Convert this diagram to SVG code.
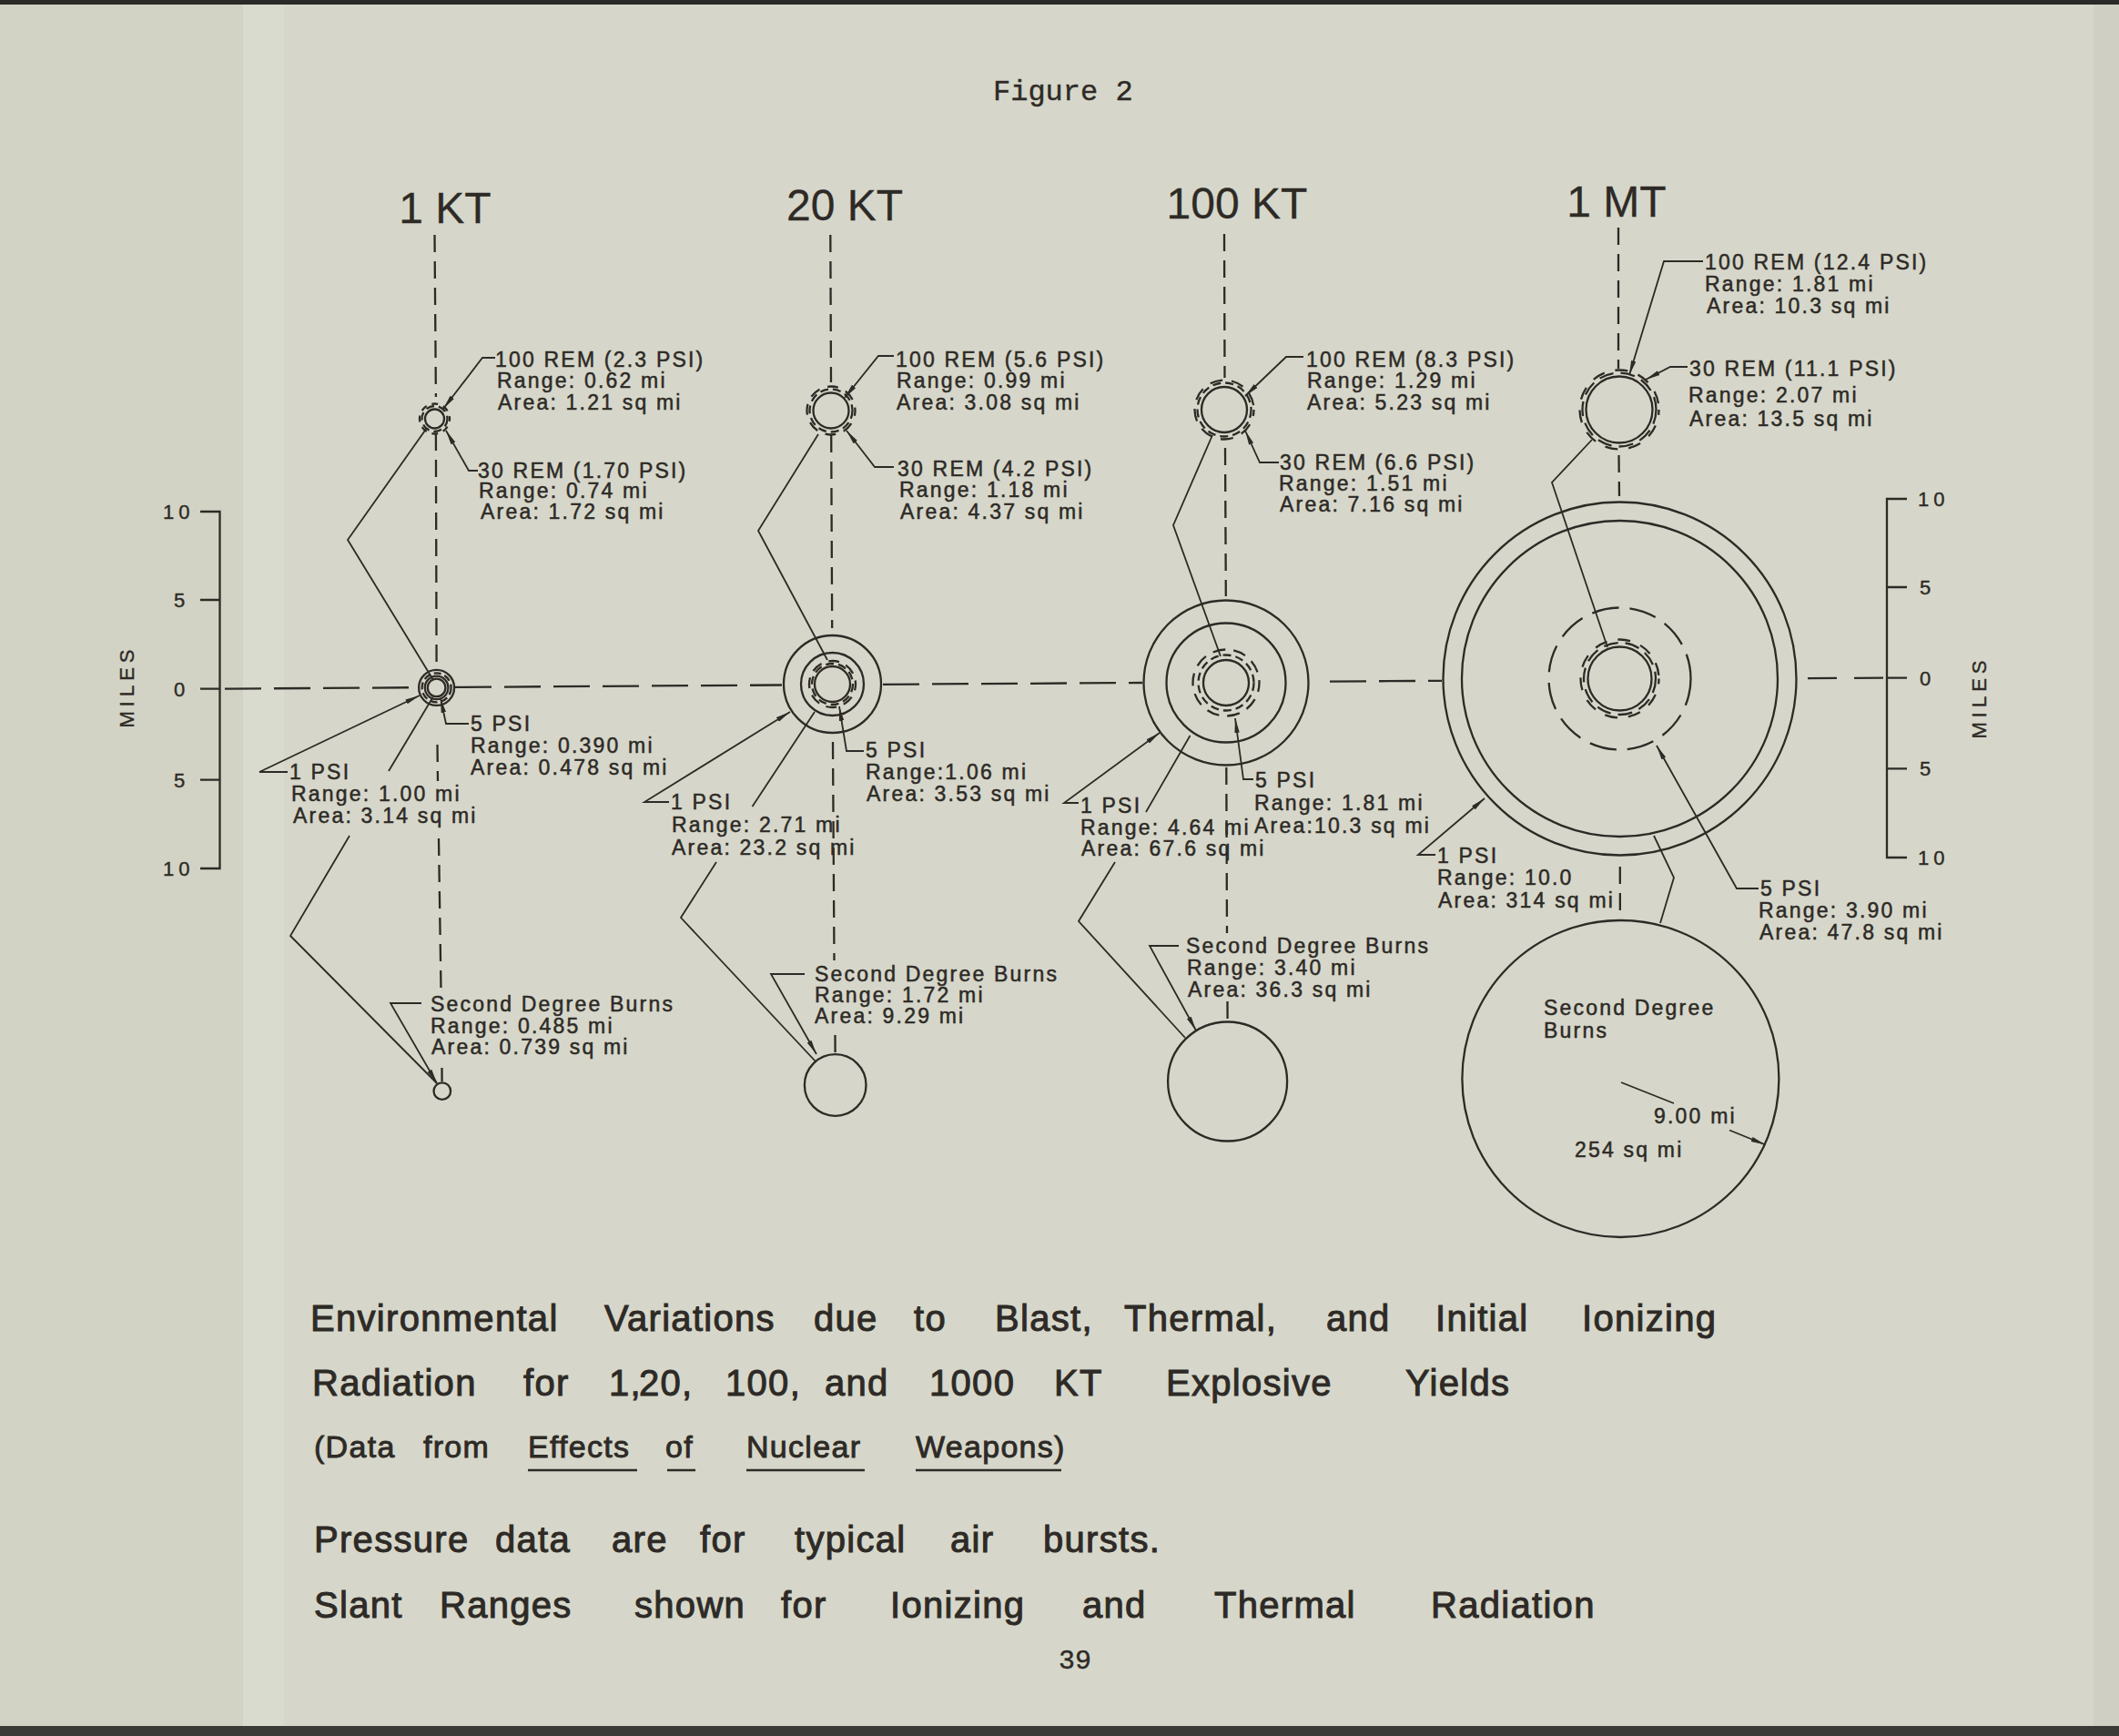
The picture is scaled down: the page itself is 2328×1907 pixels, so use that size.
<svg xmlns="http://www.w3.org/2000/svg" width="2328" height="1907" viewBox="0 0 2328 1907">
<style>
.ln{stroke:#2e2a26;fill:none;stroke-width:2.3}
.th{stroke:#2e2a26;fill:none;stroke-width:1.8}
.dv{stroke-dasharray:19 10}
.dh{stroke-dasharray:40 14}
.ds{stroke-dasharray:9 5}
.lbl{font-family:"Liberation Sans",Arial,sans-serif;font-size:23px;letter-spacing:2.2px;fill:#2e2a26;stroke:#2e2a26;stroke-width:0.5px}
.hdr{font-family:"Liberation Sans",Arial,sans-serif;font-size:48px;fill:#2e2a26;text-anchor:middle;stroke:#2e2a26;stroke-width:0.3px}
.sc{font-family:"Liberation Sans",Arial,sans-serif;font-size:22px;letter-spacing:5px;fill:#2e2a26;stroke:#2e2a26;stroke-width:0.4px}
.cap{font-family:"Liberation Sans",Arial,sans-serif;font-size:40px;letter-spacing:1.3px;fill:#2e2a26;stroke:#2e2a26;stroke-width:1px}
.cap3{font-family:"Liberation Sans",Arial,sans-serif;font-size:34px;letter-spacing:1.3px;fill:#2e2a26;stroke:#2e2a26;stroke-width:0.9px}
.tw{font-family:"Liberation Mono","Courier New",monospace;fill:#2e2a26;stroke:#2e2a26;stroke-width:0.4px}
</style>
<defs>
<marker id="arr" viewBox="0 0 16 8" refX="16" refY="4" markerWidth="16" markerHeight="8" orient="auto" markerUnits="userSpaceOnUse"><path d="M0,1.3 L16,4 L0,6.7 Z" fill="#2e2a26"/></marker>
</defs>
<rect x="0" y="0" width="2328" height="1907" fill="#d6d7ca"/>
<rect x="0" y="0" width="267" height="1907" fill="#d2d3c5"/>
<rect x="267" y="0" width="45" height="1907" fill="#dadbcf"/>
<rect x="2300" y="0" width="28" height="1907" fill="#cfd0c3"/>
<rect x="0" y="0" width="2328" height="5" fill="#2a2a28"/>
<rect x="0" y="1896" width="2328" height="11" fill="#3a3a36"/>

<text class="tw" x="1091" y="110" font-size="32">Figure 2</text>

<g id="headers">
<text class="hdr" x="489" y="245">1 KT</text>
<text class="hdr" x="928" y="242">20 KT</text>
<text class="hdr" x="1359" y="240">100 KT</text>
<text class="hdr" x="1776" y="238">1 MT</text>
</g>

<g id="scale-left">
<path class="ln" d="M220 562 H241.5 V954 H220 M220 659 H241.5 M220 756.7 H241.5 M220 856.6 H241.5"/>
<text class="sc" x="179" y="570">10</text>
<text class="sc" x="191" y="667">5</text>
<text class="sc" x="191" y="765">0</text>
<text class="sc" x="191" y="865">5</text>
<text class="sc" x="179" y="962">10</text>
<text class="sc" transform="translate(147,754) rotate(-90)" text-anchor="middle" font-size="21">MILES</text>
</g>
<g id="scale-right">
<path class="ln" d="M2095 548 H2073 V942 H2095 M2073 645 H2095 M2073 744.7 H2095 M2073 844.3 H2095"/>
<text class="sc" x="2107" y="556">10</text>
<text class="sc" x="2109" y="653">5</text>
<text class="sc" x="2109" y="753">0</text>
<text class="sc" x="2109" y="852">5</text>
<text class="sc" x="2107" y="950">10</text>
<text class="sc" transform="translate(2182,766) rotate(-90)" text-anchor="middle" font-size="21">MILES</text>
</g>

<!-- 1 KT nodes -->
<g id="kt1-upper">
<circle class="ln" cx="477.5" cy="460" r="10.5"/>
<circle class="ln ds" cx="477.5" cy="460" r="14" stroke-width="1.8"/>
<circle class="ln" cx="477.5" cy="460" r="16.5" stroke-width="1.6" stroke-dasharray="7 6" stroke-dashoffset="4"/>
</g>
<g id="kt1-center">
<circle class="ln" cx="479.6" cy="755.4" r="19.5" stroke-width="2"/>
<circle class="ln" cx="479.6" cy="755.4" r="16" stroke-width="1.4" stroke-dasharray="8 4"/>
<circle class="ln" cx="479.6" cy="755.4" r="12.8" stroke-width="1.4"/>
<circle class="ln" cx="479.6" cy="755.4" r="9.8" stroke-width="1.5"/>
</g>
<g id="kt1-burns">
<circle class="ln" cx="485.8" cy="1198.6" r="9.3" stroke-width="1.8"/>
</g>

<!-- 20 KT nodes -->
<g id="kt20-upper">
<circle class="ln" cx="913" cy="451" r="19.5"/>
<circle class="ln ds" cx="913" cy="451" r="23.5" stroke-width="1.8"/>
<circle class="ln" cx="913" cy="451" r="26.5" stroke-width="1.8" stroke-dasharray="12 9" stroke-dashoffset="6"/>
</g>
<g id="kt20-center">
<circle class="ln" cx="914.5" cy="751.5" r="53.5"/>
<circle class="ln" cx="914.5" cy="751.5" r="34.5"/>
<circle class="ln" cx="914.5" cy="751.5" r="19.5"/>
<circle class="ln ds" cx="914.5" cy="751.5" r="22.5" stroke-width="1.8"/>
<circle class="ln" cx="914.5" cy="751.5" r="25.5" stroke-width="1.8" stroke-dasharray="12 8" stroke-dashoffset="5"/>
</g>
<g id="kt20-burns">
<circle class="ln" cx="917.7" cy="1192" r="33.8"/>
</g>

<!-- 100 KT nodes -->
<g id="kt100-upper">
<circle class="ln" cx="1345" cy="450" r="25"/>
<circle class="ln ds" cx="1345" cy="450" r="29.5" stroke-width="1.8"/>
<circle class="ln" cx="1345" cy="450" r="32.5" stroke-width="1.8" stroke-dasharray="14 10" stroke-dashoffset="7"/>
</g>
<g id="kt100-center">
<circle class="ln" cx="1347" cy="750" r="90.5"/>
<circle class="ln" cx="1347" cy="750" r="65.5"/>
<circle class="ln" cx="1347" cy="750" r="25"/>
<circle class="ln ds" cx="1347" cy="750" r="30.5" stroke-width="1.8"/>
<circle class="ln" cx="1347" cy="750" r="36.5" stroke-width="1.8" stroke-dasharray="14 9" stroke-dashoffset="4"/>
</g>
<g id="kt100-burns">
<circle class="ln" cx="1348.6" cy="1188" r="65.5"/>
</g>

<!-- 1 MT nodes -->
<g id="mt1-upper">
<circle class="ln" cx="1779" cy="450" r="36.5"/>
<circle class="ln" cx="1779" cy="450" r="40.5" stroke-width="1.8" stroke-dasharray="16 8"/>
<circle class="ln" cx="1779" cy="450" r="43.5" stroke-width="1.8" stroke-dasharray="14 12" stroke-dashoffset="8"/>
</g>
<g id="mt1-center">
<circle class="ln" cx="1779.5" cy="745.5" r="194"/>
<circle class="ln" cx="1779.5" cy="745.5" r="173.5"/>
<circle class="ln" cx="1779.5" cy="745.5" r="35"/>
<circle class="ln" cx="1779.5" cy="745.5" r="39.5" stroke-width="1.8" stroke-dasharray="16 8"/>
<circle class="ln" cx="1779.5" cy="745.5" r="43" stroke-width="1.8" stroke-dasharray="14 12" stroke-dashoffset="8"/>
<circle class="ln" cx="1779.5" cy="745.5" r="78" stroke-dasharray="30 12"/>
</g>
<g id="mt1-burns">
<circle class="ln" cx="1780.4" cy="1185" r="174"/>
<text class="lbl" x="1696" y="1115">Second Degree</text>
<text class="lbl" x="1696" y="1140">Burns</text>
<text class="lbl" x="1817" y="1234">9.00 mi</text>
<text class="lbl" x="1730" y="1271">254 sq mi</text>
</g>

<g id="connectors">
<path class="ln dh" d="M247 756.6 L458 755.2 M500 754.9 L859 752.5 M970 751.8 L1255 750 M1461 748.6 L1584 747.8"/>
<path class="ln" stroke-dasharray="32 19" d="M1986 745.1 L2071 744.6"/>
<path class="ln dv" d="M477.5 258 L478.9 436 M478.9 476 L479.6 734 M480.5 818 L481 858 M482 921 L484.5 1088 M485.5 1173 L485.6 1188"/>
<path class="ln dv" d="M912.3 258 L913 420 M913.2 478 L914.2 690 M915 815 L916.5 1055 M917.5 1137 L917.6 1156"/>
<path class="ln dv" d="M1345 257 L1345.5 415 M1346 492 L1346.8 655 M1347.3 843 L1348 1025 M1348.5 1100 L1348.6 1120"/>
<path class="ln dv" d="M1778 250 L1778 405 M1778.5 500 L1779 545 M1779.8 952 L1779.9 1008"/>
<path class="th" d="M469 470 L382 593 L476 747"/>
<path class="th" d="M475.5 766 L427 847 M384 918 L319 1028 L480 1190"/>
<path class="th" d="M899 477 L833 583 L909 725"/>
<path class="th" d="M895 782 L826.5 886 M787 947 L748 1008 L896 1166"/>
<path class="th" d="M1332 478 L1289 577 L1341 721"/>
<path class="th" d="M1307.5 808 L1259 892 M1225 947 L1185 1012 L1302 1140"/>
<path class="th" d="M1749 483 L1705 530 L1766 711"/>
<path class="th" d="M1817 918 L1839 964 L1824 1014"/>
<g marker-end="url(#arr)">
<path class="th" d="M544 393 H530 L487 449"/>
<path class="th" d="M525 517 H515 L490 473"/>
<path class="th" d="M515 795 H490 L484 767"/>
<path class="th" d="M316 848 H285 L461 764"/>
<path class="th" d="M463 1102 H429 L480 1190"/>
<path class="th" d="M982 391 H965 L928 437"/>
<path class="th" d="M982 513 H961 L930 473"/>
<path class="th" d="M949 825 H930 L922 776"/>
<path class="th" d="M735 881 H708 L868 782"/>
<path class="th" d="M884 1070 H847 L897 1158"/>
<path class="th" d="M1432 392 H1413 L1368 435"/>
<path class="th" d="M1405 508 H1384 L1368 473"/>
<path class="th" d="M1377 856 H1366 L1357 789"/>
<path class="th" d="M1185 882 H1169 L1274 805"/>
<path class="th" d="M1295 1039 H1263 L1314 1132"/>
<path class="th" d="M1871 287 H1828 L1790 412"/>
<path class="th" d="M1854 403 H1835 L1808 417"/>
<path class="th" d="M1577 939 H1558 L1631 877"/>
<path class="th" d="M1932 976 H1908 L1820 819"/>
<path class="th" d="M1900 1241.5 L1939.5 1257.5"/>
</g>
<path class="th" d="M1781 1189 L1839 1212"/>
</g>

<g id="labels-1kt">
<text class="lbl"><tspan x="544" y="403">100 REM (2.3 PSI)</tspan><tspan x="546" y="426">Range: 0.62 mi</tspan><tspan x="547" y="450">Area: 1.21 sq mi</tspan></text>
<text class="lbl"><tspan x="525" y="525">30 REM (1.70 PSI)</tspan><tspan x="526" y="547">Range: 0.74 mi</tspan><tspan x="528" y="570">Area: 1.72 sq mi</tspan></text>
<text class="lbl"><tspan x="517" y="803">5 PSI</tspan><tspan x="517" y="827">Range: 0.390 mi</tspan><tspan x="517" y="851">Area: 0.478 sq mi</tspan></text>
<text class="lbl"><tspan x="318" y="856">1 PSI</tspan><tspan x="320" y="880">Range: 1.00 mi</tspan><tspan x="322" y="904">Area: 3.14 sq mi</tspan></text>
<text class="lbl"><tspan x="473" y="1111">Second Degree Burns</tspan><tspan x="473" y="1135">Range: 0.485 mi</tspan><tspan x="474" y="1158">Area: 0.739 sq mi</tspan></text>
</g>
<g id="labels-20kt">
<text class="lbl"><tspan x="984" y="403">100 REM (5.6 PSI)</tspan><tspan x="985" y="426">Range: 0.99 mi</tspan><tspan x="985" y="450">Area: 3.08 sq mi</tspan></text>
<text class="lbl"><tspan x="986" y="523">30 REM (4.2 PSI)</tspan><tspan x="988" y="546">Range: 1.18 mi</tspan><tspan x="989" y="570">Area: 4.37 sq mi</tspan></text>
<text class="lbl"><tspan x="951" y="832">5 PSI</tspan><tspan x="951" y="856">Range:1.06 mi</tspan><tspan x="952" y="880">Area: 3.53 sq mi</tspan></text>
<text class="lbl"><tspan x="737" y="889">1 PSI</tspan><tspan x="738" y="914">Range: 2.71 mi</tspan><tspan x="738" y="939">Area: 23.2 sq mi</tspan></text>
<text class="lbl"><tspan x="895" y="1078">Second Degree Burns</tspan><tspan x="895" y="1101">Range: 1.72 mi</tspan><tspan x="895" y="1124">Area: 9.29 mi</tspan></text>
</g>
<g id="labels-100kt">
<text class="lbl"><tspan x="1435" y="403">100 REM (8.3 PSI)</tspan><tspan x="1436" y="426">Range: 1.29 mi</tspan><tspan x="1436" y="450">Area: 5.23 sq mi</tspan></text>
<text class="lbl"><tspan x="1406" y="516">30 REM (6.6 PSI)</tspan><tspan x="1405" y="539">Range: 1.51 mi</tspan><tspan x="1406" y="562">Area: 7.16 sq mi</tspan></text>
<text class="lbl"><tspan x="1379" y="865">5 PSI</tspan><tspan x="1378" y="890">Range: 1.81 mi</tspan><tspan x="1378" y="915">Area:10.3 sq mi</tspan></text>
<text class="lbl"><tspan x="1187" y="893">1 PSI</tspan><tspan x="1187" y="917">Range: 4.64 mi</tspan><tspan x="1188" y="940">Area: 67.6 sq mi</tspan></text>
<text class="lbl"><tspan x="1303" y="1047">Second Degree Burns</tspan><tspan x="1304" y="1071">Range: 3.40 mi</tspan><tspan x="1305" y="1095">Area: 36.3 sq mi</tspan></text>
</g>
<g id="labels-1mt">
<text class="lbl"><tspan x="1873" y="296">100 REM (12.4 PSI)</tspan><tspan x="1873" y="320">Range: 1.81 mi</tspan><tspan x="1875" y="344">Area: 10.3 sq mi</tspan></text>
<text class="lbl"><tspan x="1856" y="413">30 REM (11.1 PSI)</tspan><tspan x="1855" y="442">Range: 2.07 mi</tspan><tspan x="1856" y="468">Area: 13.5 sq mi</tspan></text>
<text class="lbl"><tspan x="1579" y="948">1 PSI</tspan><tspan x="1579" y="972">Range: 10.0</tspan><tspan x="1580" y="997">Area: 314 sq mi</tspan></text>
<text class="lbl"><tspan x="1934" y="984">5 PSI</tspan><tspan x="1932" y="1008">Range: 3.90 mi</tspan><tspan x="1933" y="1032">Area: 47.8 sq mi</tspan></text>
</g>

<g id="caption">
<text class="cap"><tspan x="341" y="1462">Environmental</tspan><tspan x="664" y="1462">Variations</tspan><tspan x="894" y="1462">due</tspan><tspan x="1004" y="1462">to</tspan><tspan x="1093" y="1462">Blast,</tspan><tspan x="1235" y="1462">Thermal,</tspan><tspan x="1457" y="1462">and</tspan><tspan x="1577" y="1462">Initial</tspan><tspan x="1738" y="1462">Ionizing</tspan></text>
<text class="cap"><tspan x="343" y="1533">Radiation</tspan><tspan x="575" y="1533">for</tspan><tspan x="669" y="1533">1,</tspan><tspan x="702" y="1533">20,</tspan><tspan x="797" y="1533">100,</tspan><tspan x="906" y="1533">and</tspan><tspan x="1021" y="1533">1000</tspan><tspan x="1158" y="1533">KT</tspan><tspan x="1281" y="1533">Explosive</tspan><tspan x="1544" y="1533">Yields</tspan></text>
<text class="cap3"><tspan x="345" y="1601">(Data</tspan><tspan x="465" y="1601">from</tspan><tspan x="580" y="1601">Effects</tspan><tspan x="731" y="1601">of</tspan><tspan x="820" y="1601">Nuclear</tspan><tspan x="1006" y="1601">Weapons)</tspan></text>
<path class="ln" stroke-width="2.6" d="M580 1615 H700 M733 1615 H764 M820 1615 H950 M1006 1615 H1166"/>
<text class="cap"><tspan x="345" y="1705">Pressure</tspan><tspan x="544" y="1705">data</tspan><tspan x="672" y="1705">are</tspan><tspan x="769" y="1705">for</tspan><tspan x="873" y="1705">typical</tspan><tspan x="1044" y="1705">air</tspan><tspan x="1146" y="1705">bursts.</tspan></text>
<text class="cap"><tspan x="345" y="1777">Slant</tspan><tspan x="483" y="1777">Ranges</tspan><tspan x="697" y="1777">shown</tspan><tspan x="858" y="1777">for</tspan><tspan x="978" y="1777">Ionizing</tspan><tspan x="1189" y="1777">and</tspan><tspan x="1334" y="1777">Thermal</tspan><tspan x="1572" y="1777">Radiation</tspan></text>
<text class="tw" x="1163" y="1833" font-size="30">39</text>
</g>
</svg>
